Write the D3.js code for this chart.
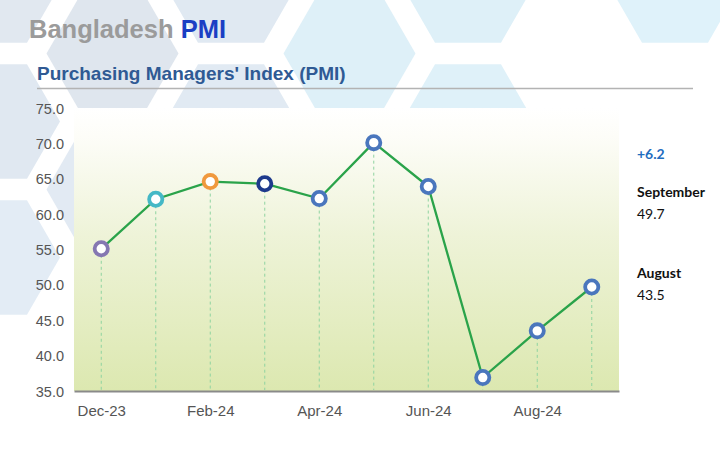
<!DOCTYPE html>
<html>
<head>
<meta charset="utf-8">
<script src="https://cdn.jsdelivr.net/npm/d3@7"></script>
<style>
html,body{margin:0;padding:0;background:#fff;}
svg{display:block;}
</style>
</head>
<body>
<svg id="chart" width="720" height="450"></svg>
<script>
const months = ["Dec-23","Jan-24","Feb-24","Mar-24","Apr-24","May-24","Jun-24","Jul-24","Aug-24","Sep-24"];
const pmiValues = [55.1, 62.1, 64.6, 64.3, 62.2, 70.1, 63.9, 36.9, 43.5, 49.7];
const markerColors = ["#8577b2","#45b8c6","#f0993e","#1e3a8c","#4a76bd","#4a76bd","#4a76bd","#4a76bd","#4a76bd","#4a76bd"];
const xTickLabels = ["Dec-23","Feb-24","Apr-24","Jun-24","Aug-24"];
const yTickValues = [35,40,45,50,55,60,65,70,75];
const sideChange = "+6.2";
const sideLabels = ["September","August"];
const sideValues = ["49.7","43.5"];

const svg = d3.select("#chart");
const W = 720, H = 450;
const m = {left:74, right:101, top:108, bottom:59};

// decorative hexagon background
const hexes = [
  [-6,-14.5,"#e1e8f0"],[-6,121.5,"#e0e8f1"],[-6,257.5,"#e3ecf5"],
  [112.5,53.5,"#dfe6ee"],[112.5,189.5,"#e2eaf3"],
  [231,-14.5,"#e0e9f2"],[231,121.5,"#e1eaf3"],
  [349.5,53.5,"#def0f8"],
  [468,-14.5,"#def0f8"],[468,121.5,"#dff1f9"],
  [675,-14.5,"#dff2fa"]
];
const R = 66;
const hexPath = (cx,cy) => {
  const pts = d3.range(6).map(i => {
    const a = Math.PI/3*i;
    return [cx + R*Math.cos(a), cy + R*Math.sin(a)];
  });
  return "M" + pts.map(p=>p.join(",")).join("L") + "Z";
};
svg.append("g").selectAll("path").data(hexes).join("path")
  .attr("d", d => hexPath(d[0], d[1]))
  .attr("fill", d => d[2]);

// titles
const t = svg.append("text").attr("x",29).attr("y",38)
  .attr("font-family","Liberation Sans, Arial, sans-serif")
  .attr("font-weight","bold").attr("font-size",25.5);
t.append("tspan").attr("fill","#9b9b9b").text("Bangladesh ");
t.append("tspan").attr("fill","#1b3fc4").text("PMI");

svg.append("text").attr("x",37).attr("y",80)
  .attr("font-family","Liberation Sans, Arial, sans-serif")
  .attr("font-weight","bold").attr("font-size",19)
  .attr("fill","#2f5a94").text("Purchasing Managers' Index (PMI)");

svg.append("line").attr("x1",37).attr("x2",693).attr("y1",88.5).attr("y2",88.5)
  .attr("stroke","#b3b3b3").attr("stroke-width",1.5);

// plot background gradient
const defs = svg.append("defs");
const grad = defs.append("linearGradient").attr("id","bg").attr("x1",0).attr("x2",0).attr("y1",0).attr("y2",1);
grad.append("stop").attr("offset","0%").attr("stop-color","#ffffff");
grad.append("stop").attr("offset","10%").attr("stop-color","#fdfdf8");
grad.append("stop").attr("offset","45%").attr("stop-color","#eef3d8");
grad.append("stop").attr("offset","100%").attr("stop-color","#dce8b0");

const x = d3.scalePoint().domain(months).range([m.left, W - m.right]).padding(0.5);
const y = d3.scaleLinear().domain([35,75]).range([H - m.bottom, m.top]);

svg.append("rect").attr("x",m.left).attr("y",m.top)
  .attr("width", W - m.right - m.left).attr("height", H - m.bottom - m.top)
  .attr("fill","url(#bg)");

// y axis
const yAxis = svg.append("g").attr("transform",`translate(${m.left-10},0)`)
  .call(d3.axisLeft(y).tickValues(yTickValues).tickFormat(d3.format(".1f")).tickSize(0).tickPadding(0));
yAxis.select(".domain").remove();
yAxis.selectAll("text").attr("font-family","Liberation Sans, Arial, sans-serif")
  .attr("font-size",14.5).attr("fill","#555").attr("dy","0.35em");

// x axis
const xAxis = svg.append("g").attr("transform",`translate(0,${H - m.bottom})`)
  .call(d3.axisBottom(x).tickValues(xTickLabels).tickSize(0).tickPadding(14));
xAxis.select(".domain").attr("stroke","#8a8a8a").attr("stroke-width",2);
xAxis.selectAll("text").attr("font-family","Liberation Sans, Arial, sans-serif")
  .attr("font-size",15).attr("fill","#555");

// dashed droplines
svg.append("g").selectAll("line").data(months).join("line")
  .attr("x1", d => x(d)).attr("x2", d => x(d))
  .attr("y1", (d,i) => y(pmiValues[i])).attr("y2", H - m.bottom - 1)
  .attr("stroke","#8fd3a0").attr("stroke-width",1).attr("stroke-dasharray","3,3");

// line
const line = d3.line().x((d,i) => x(months[i])).y(d => y(d));
svg.append("path").datum(pmiValues).attr("d", line)
  .attr("fill","none").attr("stroke","#2aa34a").attr("stroke-width",2.3);

// markers
svg.append("g").selectAll("circle").data(pmiValues).join("circle")
  .attr("cx", (d,i) => x(months[i])).attr("cy", d => y(d))
  .attr("r",6.6).attr("fill","#fff")
  .attr("stroke",(d,i) => markerColors[i]).attr("stroke-width",3.8);

// side annotations
const sf = "Lato, 'Open Sans', sans-serif";
svg.append("text").attr("x",637).attr("y",159).attr("font-family",sf)
  .attr("font-weight","bold").attr("font-size",14).attr("fill","#1f6dbf").text(sideChange);
const sideY = [197, 278];
sideLabels.forEach((lab,i) => {
  svg.append("text").attr("x",637).attr("y",sideY[i]).attr("font-family",sf)
    .attr("font-weight","bold").attr("font-size",14).attr("fill","#111").text(lab);
  svg.append("text").attr("x",637).attr("y",sideY[i]+22).attr("font-family",sf)
    .attr("font-size",14).attr("fill","#111").text(sideValues[i]);
});
</script>
</body>
</html>
